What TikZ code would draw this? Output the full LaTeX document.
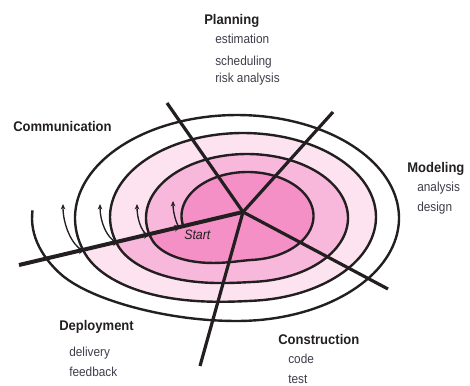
\documentclass[tikz,border=0pt]{standalone}
\usepackage{fontspec}
\setmainfont{Liberation Sans}
\usetikzlibrary{arrows.meta,calc}
\definecolor{ink}{HTML}{231F20}
\definecolor{subink}{HTML}{3D3D4A}
\definecolor{pinkdark}{HTML}{F490C6}
\definecolor{pinkmid}{HTML}{F8B8DC}
\definecolor{pinkpale}{HTML}{FDE2EF}
\newcommand\hdtxt[1]{\scalebox{0.93}[1]{#1}}
\newcommand\ittxt[1]{\scalebox{0.91}[1]{#1}}
\begin{document}
\begin{tikzpicture}[x=0.75pt,y=-0.75pt,
  declare function={
    cl(\p,\ta,\tb)=min(1,max(0,(\p-\ta)/(\tb-\ta)));
    sm(\p,\ta,\tb)=cl(\p,\ta,\tb)*cl(\p,\ta,\tb)*(3-2*cl(\p,\ta,\tb));
    xa(\p)=247.5-0.5*sm(\p,445,520)+(66+35*sm(\p,445,520))*cos(\p);
    ya(\p)=216+2*sm(\p,445,520)+(44+20*sm(\p,445,520))*sin(\p);
    xb(\p)=247-4*sm(\p,805,880)+(101+32*sm(\p,805,880))*cos(\p);
    yb(\p)=218-1*sm(\p,805,880)+(64+20*sm(\p,805,880))*sin(\p);
    xc(\p)=243-6*sm(\p,1165,1240)+(133+29*sm(\p,1165,1240))*cos(\p);
    yc(\p)=217+1*sm(\p,1165,1240)+(84+19*sm(\p,1165,1240))*sin(\p);
    xd(\p)=237+(162+43*sm(\p,1530,1590))*cos(\p);
    yd(\p)=218+(103+7*sm(\p,1530,1590))*sin(\p);
  },
  ringline/.style={draw=ink, line width=1.8pt, line join=round},
  spoke/.style={draw=ink, line width=2.4pt},
  startline/.style={draw=ink, line width=3pt},
  loopmark/.style={draw=ink, line width=1pt, {Stealth[length=4pt,width=3.4pt]}-},
  linemark/.style={draw=ink, line width=0.6pt, -{Stealth[length=5pt,width=5pt]}},
  head/.style={anchor=base west, inner sep=0pt, text=ink, font=\fontsize{10.5}{12}\selectfont\bfseries},
  item/.style={anchor=base west, inner sep=0pt, text=subink, font=\fontsize{9.75}{12}\selectfont},
  starttxt/.style={anchor=base west, inner sep=0pt, text=ink, font=\fontsize{10.2}{12}\selectfont\itshape}
]
\useasboundingbox (0,0) rectangle (470,385);

% filled loops of the spiral
\fill[pinkpale] plot[domain=882.7:1242, samples=150, variable=\t] ({xc(\t)},{yc(\t)}) -- cycle;
\fill[pinkmid] plot[domain=525.5:882.7, samples=150, variable=\t] ({xb(\t)},{yb(\t)}) -- cycle;
\fill[pinkdark] plot[domain=166.8:525.5, samples=150, variable=\t] ({xa(\t)},{ya(\t)}) -- cycle;

% spiral stroke
\draw[ringline] plot[domain=166.8:525.5, samples=150, variable=\t] ({xa(\t)},{ya(\t)})
  -- plot[domain=525.5:882.7, samples=150, variable=\t] ({xb(\t)},{yb(\t)})
  -- plot[domain=882.7:1242, samples=150, variable=\t] ({xc(\t)},{yc(\t)})
  -- plot[domain=1242:1624, samples=160, variable=\t] ({xd(\t)},{yd(\t)});

% centre, spokes and start line
\coordinate (C) at (243,212);
\coordinate (P0) at (19,265);
\coordinate (S1) at (167,103);
\coordinate (S2) at (333,112);
\coordinate (S3) at (388,289);
\coordinate (S4) at (200,366);
\draw[spoke] (C) -- (S1);
\draw[spoke] (C) -- (S2);
\draw[spoke] (C) -- (S3);
\draw[spoke] (C) -- (S4);
\draw[startline] (P0) -- (C);

% arrow marks on the start line
\coordinate (tip4) at ($(P0)!0.2946!(C)$);
\coordinate (tip3) at ($(P0)!0.4464!(C)$);
\coordinate (tip2) at ($(P0)!0.5848!(C)$);
\coordinate (tip1) at ($(P0)!0.7232!(C)$);
\coordinate (tail4) at ($(P0)!0.2686!(C)$);
\coordinate (tail3) at ($(P0)!0.4204!(C)$);
\coordinate (tail2) at ($(P0)!0.5588!(C)$);
\coordinate (tail1) at ($(P0)!0.6972!(C)$);
\draw[linemark] (tail4) -- (tip4);
\draw[linemark] (tail3) -- (tip3);
\draw[linemark] (tail2) -- (tip2);
\draw[linemark] (tail1) -- (tip1);

% small loop arrows
\coordinate (E4) at ($(P0)!0.28125!(C)$);
\coordinate (E3) at ($(P0)!0.4330!(C)$);
\coordinate (E2) at ($(P0)!0.5714!(C)$);
\coordinate (E1) at ($(P0)!0.7143!(C)$);
\coordinate (T4) at (63,204);
\coordinate (T3) at (100,204);
\coordinate (T2) at (137,204);
\coordinate (T1) at (173,201);
\draw[loopmark] (T4) .. controls (63,225) and (72,245) .. (E4);
\draw[loopmark] (T3) .. controls (100,222) and (107,238) .. (E3);
\draw[loopmark] (T2) .. controls (137,218) and (141,231) .. (E2);
\draw[loopmark] (T1) .. controls (173,212) and (176,223) .. (E1);

% texts
\node[starttxt] (start) at (184,239) {\ittxt{Start}};

\node[head] (planning) at (204,24.5) {\hdtxt{Planning}};
\node[item] (estimation) at (215,44) {\ittxt{estimation}};
\node[item] (scheduling) at (215,65.5) {\ittxt{scheduling}};
\node[item] (risk) at (215,82.5) {\ittxt{risk analysis}};

\node[head] (communication) at (13,131) {\hdtxt{Communication}};

\node[head] (modeling) at (407,172) {\hdtxt{Modeling}};
\node[item] (analysis) at (417,191.7) {\ittxt{analysis}};
\node[item] (design) at (417,211) {\ittxt{design}};

\node[head] (deployment) at (59,330) {\hdtxt{Deployment}};
\node[item] (delivery) at (69,356.7) {\ittxt{delivery}};
\node[item] (feedback) at (69,376) {\ittxt{feedback}};

\node[head] (construction) at (278,344) {\hdtxt{Construction}};
\node[item] (code) at (288,363.3) {\ittxt{code}};
\node[item] (test) at (288,383.3) {\ittxt{test}};
\end{tikzpicture}
\end{document}
